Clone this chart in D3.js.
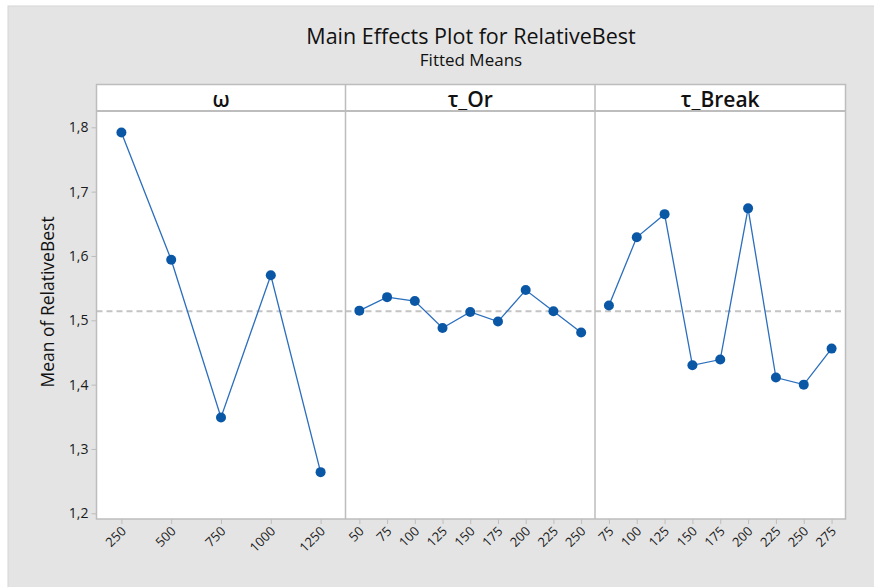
<!DOCTYPE html>
<html><head><meta charset="utf-8">
<script src="https://cdn.jsdelivr.net/npm/d3@7"></script>
<style>body{margin:0;background:#fff}svg{display:block}</style>
</head><body>
<svg id="c" width="874" height="587"></svg>
<script>
// ---- data ----
const title = "Main Effects Plot for RelativeBest";
const subtitle = "Fitted Means";
const yLabel = "Mean of RelativeBest";
const factorNames = ["ω", "τ_Or", "τ_Break"];
const omegaLevels = ["250", "500", "750", "1000", "1250"];
const omegaMeans = [1.792, 1.594, 1.349, 1.570, 1.264];
const tauOrLevels = ["50", "75", "100", "125", "150", "175", "200", "225", "250"];
const tauOrMeans = [1.515, 1.536, 1.530, 1.488, 1.513, 1.498, 1.547, 1.514, 1.481];
const tauBreakLevels = ["75", "100", "125", "150", "175", "200", "225", "250", "275"];
const tauBreakMeans = [1.523, 1.629, 1.665, 1.430, 1.439, 1.674, 1.411, 1.400, 1.456];
const grandMean = 1.514;
const yTicks = [1.2, 1.3, 1.4, 1.5, 1.6, 1.7, 1.8];

const panels = [
  {name: factorNames[0], levels: omegaLevels, means: omegaMeans},
  {name: factorNames[1], levels: tauOrLevels, means: tauOrMeans},
  {name: factorNames[2], levels: tauBreakLevels, means: tauBreakMeans}
];

// ---- layout ----
const svg = d3.select("#c");
const font = "'Open Sans', 'Noto Sans', sans-serif";
const left = 96.5, right = 845.5, headTop = 84.5, plotTop = 111, bottom = 519;
const borderCol = "#bdbdbd";

svg.append("rect").attr("x", 8).attr("y", 6).attr("width", 880).attr("height", 600)
  .attr("fill", "#e4e4e4").attr("stroke", "#d6d6d6");

svg.append("text").attr("x", (left + right) / 2).attr("y", 44).attr("text-anchor", "middle")
  .style("font-family", font).style("font-size", "21.5px").style("font-weight", 500).attr("fill", "#111").text(title);
svg.append("text").attr("x", (left + right) / 2).attr("y", 66).attr("text-anchor", "middle")
  .style("font-family", font).style("font-size", "17px").style("font-weight", 500).attr("fill", "#111").text(subtitle);

const y = d3.scaleLinear().domain([1.2, 1.8]).range([513.3, 127.3]);

// panel x extents
const bounds = [left, 345.5, 595, right];

// backgrounds
svg.append("rect").attr("x", left).attr("y", headTop).attr("width", right - left).attr("height", bottom - headTop)
  .attr("fill", "#fff");

panels.forEach((p, i) => {
  const x0 = bounds[i], x1 = bounds[i + 1];
  const x = d3.scalePoint().domain(p.levels).range([x0, x1]).padding(0.5);
  const g = svg.append("g");
  // header label
  g.append("text").attr("x", (x0 + x1) / 2).attr("y", 106.5).attr("text-anchor", "middle")
    .style("font-family", font).style("font-size", "21px").style("font-weight", 600).attr("fill", "#111").text(p.name);
  // reference line
  g.append("line").attr("x1", x0).attr("x2", x1).attr("y1", y(grandMean)).attr("y2", y(grandMean))
    .attr("stroke", "#c4c4c4").attr("stroke-width", 2).attr("stroke-dasharray", "6,4");
  // line
  const data = p.levels.map((l, k) => ({l, v: p.means[k]}));
  g.append("path").datum(data)
    .attr("d", d3.line().x(d => x(d.l)).y(d => y(d.v)))
    .attr("fill", "none").attr("stroke", "#2a6ebd").attr("stroke-width", 1.3);
  g.selectAll("circle").data(data).join("circle")
    .attr("cx", d => x(d.l)).attr("cy", d => y(d.v)).attr("r", 5)
    .attr("fill", "#0a57a6");
  // x axis
  const ax = g.append("g").attr("transform", `translate(0,${bottom})`)
    .call(d3.axisBottom(x).tickSize(5).tickSizeOuter(0));
  ax.select(".domain").remove();
  ax.selectAll("line").attr("stroke", borderCol);
  ax.selectAll("text").style("font-family", font).style("font-size", "13px").style("font-weight", 500).attr("fill", "#1a1a1a")
    .attr("text-anchor", "end").attr("dy", null).attr("y", 0)
    .attr("transform", "translate(5,13) rotate(-45)");
});

// y axis
const ay = svg.append("g").attr("transform", `translate(${left},0)`)
  .call(d3.axisLeft(y).tickValues(yTicks).tickSize(5).tickFormat(d => d3.format(".1f")(d).replace(".", ",")));
ay.select(".domain").remove();
ay.selectAll("line").attr("stroke", borderCol);
ay.selectAll("text").style("font-family", font).style("font-size", "14px").style("font-weight", 500).attr("fill", "#1a1a1a").attr("x", -8);

svg.append("text").attr("transform", "translate(54,302) rotate(-90)").attr("text-anchor", "middle")
  .style("font-family", font).style("font-size", "17.5px").style("font-weight", 500).attr("fill", "#111").text(yLabel);

// borders
svg.append("rect").attr("x", left).attr("y", headTop).attr("width", right - left).attr("height", bottom - headTop)
  .attr("fill", "none").attr("stroke", borderCol).attr("stroke-width", 1.5);
svg.append("line").attr("x1", left).attr("x2", right).attr("y1", plotTop).attr("y2", plotTop)
  .attr("stroke", borderCol).attr("stroke-width", 2);
[bounds[1], bounds[2]].forEach(bx => {
  svg.append("line").attr("x1", bx).attr("x2", bx).attr("y1", headTop).attr("y2", bottom)
    .attr("stroke", borderCol).attr("stroke-width", 1.5);
});
</script>
</body></html>
